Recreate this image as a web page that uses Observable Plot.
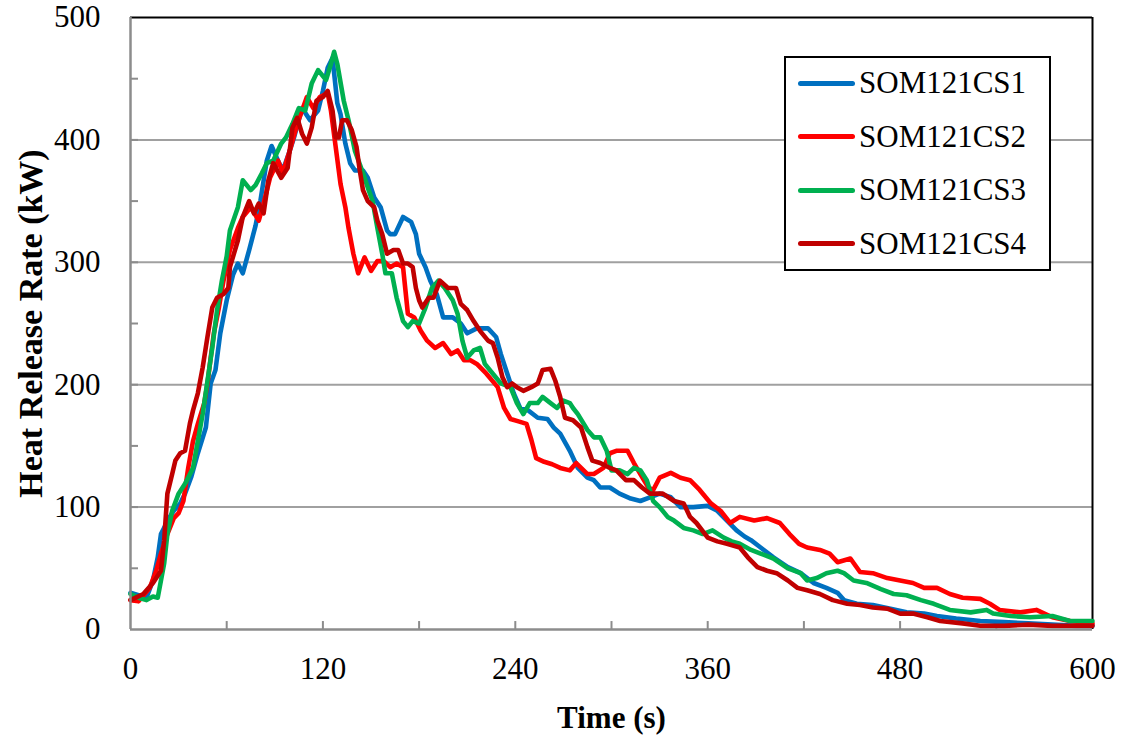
<!DOCTYPE html>
<html>
<head>
<meta charset="utf-8">
<script src="https://cdn.jsdelivr.net/npm/d3@7"></script>
<script src="https://cdn.jsdelivr.net/npm/@observablehq/plot@0.6"></script>
<style>
  html, body { margin: 0; padding: 0; background: #fff; }
  #wrap { position: relative; width: 1129px; height: 738px; font-family: "Liberation Serif", "Times New Roman", serif; }
  #legend { position: absolute; left: 784px; top: 56px; width: 263px; height: 211px; border: 2px solid #000; background: #fff; box-sizing: content-box; }
  .item { position: absolute; left: 12px; height: 40px; display: flex; align-items: center; font-size: 31px; color: #000; }
  .sw { width: 57px; height: 5px; border-radius: 3px; margin-right: 4px; }
</style>
</head>
<body>
<div id="wrap"><div id="chart"></div><div id="legend"></div></div>
<script>
const seriesNames = ["SOM121CS1", "SOM121CS2", "SOM121CS3", "SOM121CS4"];
const seriesColors = ["#0070C0", "#FF0000", "#00B050", "#C00000"];
const xTitle = "Time (s)";
const yTitle = "Heat Release Rate (kW)";
const xTickLabels = [0, 120, 240, 360, 480, 600];
const xMinorTicks = [60, 120, 180, 240, 300, 360, 420, 480, 540];
const yTickLabels = [0, 100, 200, 300, 400, 500];
const yGrid = [100, 200, 300, 400];
const yMinorTicks = [50, 100, 150, 200, 250, 300, 350, 400, 450];

const cs1Time = [0,5,10,14,17,19,21,23,27,31,34,38,42,47,50,53,56,60,64,67,70,74,78,81,85,88,92,95,99,102,107,112,117,120,123,126,129,131,134,137,140,145,148,152,156,160,162,165,170,175,178,180,184,187,191,195,201,206,210,216,223,228,231,235,239,243,248,254,260,264,268,274,279,285,289,293,299,305,312,318,324,330,337,343,351,360,366,372,378,383,387,393,401,410,418,426,434,441,445,453,463,474,484,495,503,515,530,545,560,575,590,600];
const cs1HRR  = [30,28,26,40,59,78,83,89,97,103,111,125,144,165,201,212,242,269,290,299,291,310,330,350,383,395,383,375,390,402,426,416,424,440,459,467,430,421,397,381,375,375,369,353,345,326,323,323,337,333,323,307,296,285,274,255,255,250,242,246,246,239,225,209,193,181,179,173,172,165,160,146,132,124,122,116,116,111,107,105,108,111,108,100,100,101,97,89,81,76,73,67,59,51,46,38,34,30,24,21,20,17,14,13,11,9,7,6,5,4,3,3];

const cs2Time = [0,5,12,16,19,23,27,30,33,36,39,42,46,48,50,52,55,58,62,67,70,75,80,83,87,92,95,100,104,110,114,118,123,125,128,131,134,136,139,142,146,150,154,158,162,166,170,173,177,181,185,190,195,200,204,208,212,216,222,229,233,237,242,247,250,253,258,263,268,274,278,285,289,295,299,303,310,314,318,323,326,330,337,343,349,355,362,368,374,380,389,397,405,411,417,422,430,436,441,449,455,463,472,480,488,495,503,511,519,530,536,542,555,565,575,586,600];
const cs2HRR  = [24,23,34,48,62,78,91,95,105,132,154,168,185,201,222,242,262,285,310,328,337,345,334,348,369,383,373,394,413,435,426,435,438,424,394,364,345,328,307,291,304,293,301,301,296,299,296,258,255,244,236,230,234,225,228,220,220,217,209,198,181,172,170,168,155,140,137,135,132,130,136,127,127,132,144,146,146,136,127,116,114,124,128,124,122,114,103,97,87,92,89,91,87,78,70,67,65,62,55,58,47,46,42,40,38,34,34,29,26,25,21,16,14,16,10,7,5];

const cs3Time = [0,5,10,14,17,21,23,26,30,34,39,42,45,48,51,54,57,60,62,67,70,75,78,82,85,89,94,97,101,105,109,113,117,122,125,127,129,133,136,140,145,148,151,154,157,159,163,166,170,173,176,180,184,188,192,196,201,204,207,210,214,218,221,226,231,237,241,245,249,254,257,262,266,270,274,276,279,285,289,293,297,300,305,310,314,318,322,326,330,335,339,345,351,357,363,370,375,380,387,393,401,410,418,422,428,434,441,445,451,459,468,476,484,493,501,511,524,534,538,549,561,575,586,600];
const cs3HRR  = [29,26,24,27,26,54,78,97,111,119,132,154,176,203,230,261,285,305,326,345,367,359,363,373,381,383,397,402,413,426,424,446,457,449,462,472,462,432,416,391,373,361,350,328,307,291,291,271,252,247,252,250,263,279,285,279,269,258,236,222,228,230,217,209,201,198,185,176,185,185,190,185,181,187,185,181,176,163,157,157,146,130,130,127,132,130,122,105,100,92,89,83,81,78,81,75,72,70,65,62,58,50,46,40,42,46,48,46,40,38,33,29,28,24,21,16,14,16,13,11,10,11,7,7];

const cs4Time = [0,8,14,19,21,23,26,28,31,34,37,39,42,45,48,51,54,58,61,62,67,70,74,77,80,83,86,89,94,98,101,104,107,110,113,116,120,123,126,128,130,132,135,138,141,143,145,148,152,154,157,160,164,167,170,173,176,178,180,182,186,189,193,198,203,206,210,214,218,223,226,229,232,235,238,241,245,250,254,257,262,265,268,271,276,281,285,288,293,299,303,309,314,319,324,328,332,339,345,349,353,360,366,372,380,385,391,397,403,410,416,422,430,438,447,455,463,472,480,488,497,505,519,530,545,560,575,590,600];
const cs4HRR  = [24,29,38,48,73,111,127,138,144,146,168,179,193,214,239,263,271,274,279,296,318,337,350,340,348,340,367,381,369,377,410,418,405,397,410,432,435,440,424,402,402,416,416,408,394,375,359,350,345,334,323,307,310,310,299,299,296,279,269,263,271,271,285,279,279,266,261,252,244,236,234,222,206,198,201,198,195,198,201,212,213,203,190,173,171,165,149,138,136,132,130,122,122,116,111,111,111,105,103,92,87,75,72,70,67,59,51,48,46,40,34,32,29,24,21,20,18,17,13,13,10,7,5,3,3,4,3,3,3];

const seriesTimes = [cs1Time, cs2Time, cs3Time, cs4Time];
const seriesValues = [cs1HRR, cs2HRR, cs3HRR, cs4HRR];

const rows = [];
seriesNames.forEach((name, i) => {
  seriesTimes[i].forEach((t, j) => rows.push({series: name, t, v: seriesValues[i][j]}));
});

const chart = Plot.plot({
  width: 1129,
  height: 738,
  marginLeft: 130,
  marginRight: 37,
  marginTop: 17,
  marginBottom: 109,
  style: {fontFamily: '"Liberation Serif", "Times New Roman", serif', fontSize: "31px", color: "#000", background: "#fff", overflow: "visible"},
  x: {domain: [0, 600]},
  y: {domain: [0, 500]},
  color: {domain: seriesNames, range: seriesColors},
  marks: [
    Plot.ruleY(yGrid, {stroke: "#a0a0a0", strokeWidth: 2}),
    Plot.ruleY(yMinorTicks, {x1: 0, x2: 5, stroke: "#8c8c8c", strokeWidth: 2}),
    Plot.ruleX(xMinorTicks, {y1: 0, y2: 6.5, stroke: "#8c8c8c", strokeWidth: 2}),
    Plot.ruleY([500], {stroke: "#000", strokeWidth: 2}),
    Plot.ruleX([600], {stroke: "#000", strokeWidth: 2}),
    Plot.line(rows, {x: "t", y: "v", z: "series", stroke: "series", strokeWidth: 4.6, strokeLinejoin: "round", strokeLinecap: "round", curve: "linear"}),
    Plot.ruleX([0], {stroke: "#8c8c8c", strokeWidth: 2.5}),
    Plot.ruleY([0], {stroke: "#8c8c8c", strokeWidth: 2.5}),
    Plot.axisX({ticks: xTickLabels, tickSize: 0, tickPadding: 27, label: null, fontSize: 31}),
    Plot.axisY({ticks: yTickLabels, tickSize: 0, tickPadding: 30, label: null, fontSize: 31}),
    Plot.text([xTitle], {frameAnchor: "bottom", dy: 89, lineAnchor: "middle", textAnchor: "middle", fontWeight: "bold", fontSize: 31}),
    Plot.text([yTitle], {frameAnchor: "left", dx: -99, rotate: -90, textAnchor: "middle", lineAnchor: "middle", fontWeight: "bold", fontSize: 34})
  ]
});
document.getElementById("chart").appendChild(chart);

const legend = document.getElementById("legend");
seriesNames.forEach((name, i) => {
  const item = document.createElement("div");
  item.className = "item";
  item.style.top = (5 + i * 53.5) + "px";
  const sw = document.createElement("div");
  sw.className = "sw";
  sw.style.background = seriesColors[i];
  const label = document.createElement("span");
  label.textContent = name;
  item.appendChild(sw);
  item.appendChild(label);
  legend.appendChild(item);
});
</script>
</body>
</html>
